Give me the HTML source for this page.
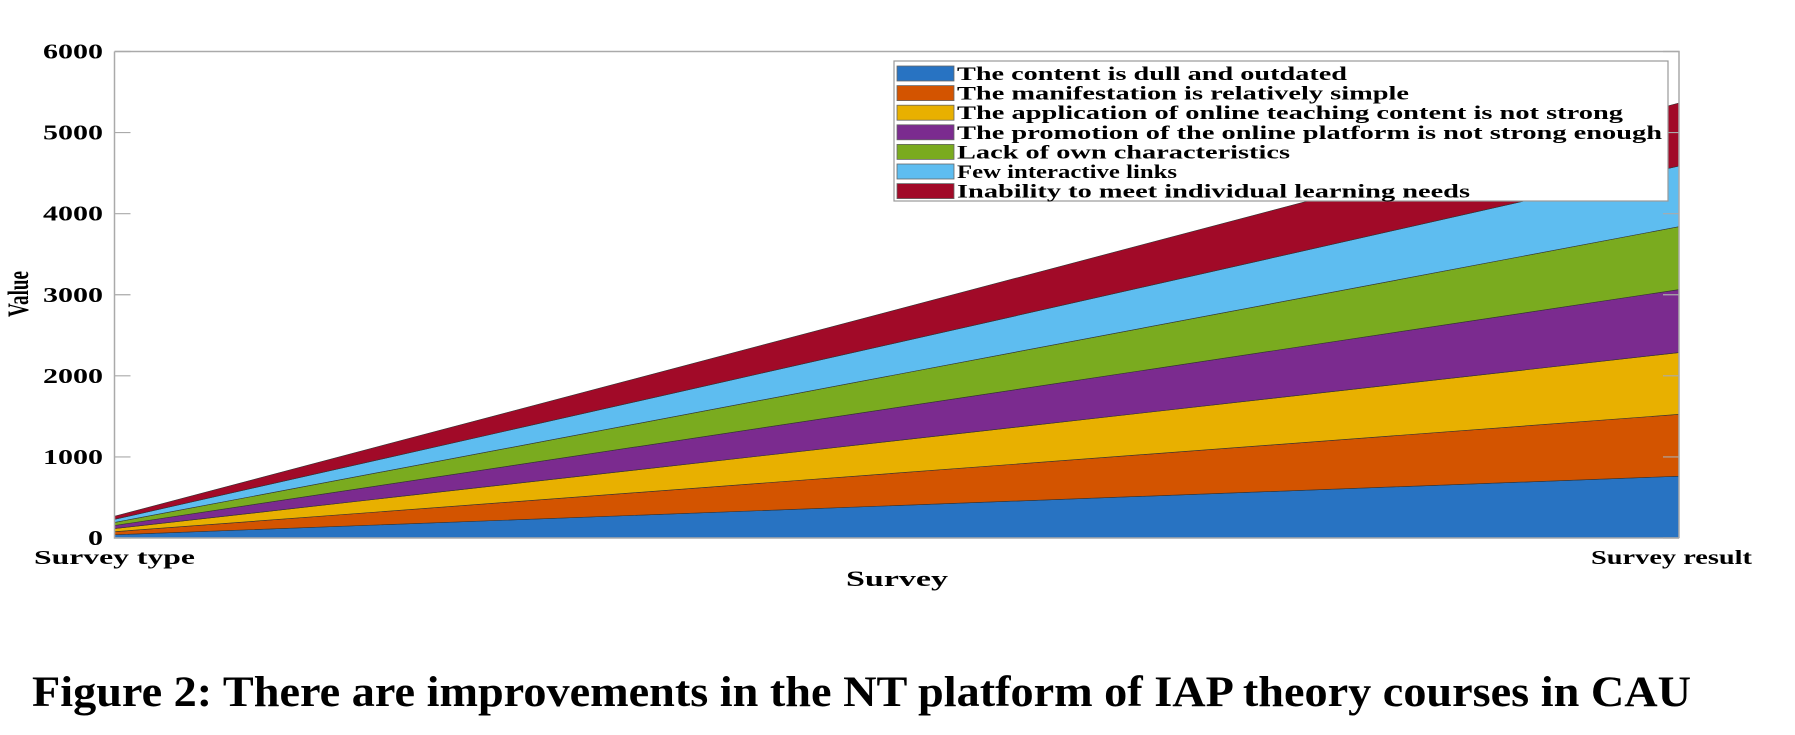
<!DOCTYPE html>
<html><head><meta charset="utf-8"><style>
html,body{margin:0;padding:0;background:#fff;}
svg{display:block;font-family:"Liberation Serif",serif;}
</style></head><body>
<svg id="chart" width="1795" height="735" viewBox="0 0 1795 735">
<g id="areas"></g>
<g id="axes"></g>
<g id="legend"></g>
<text x="28" y="294" transform="rotate(-90 28 294)" text-anchor="middle" font-size="30" font-weight="bold" textLength="46" lengthAdjust="spacingAndGlyphs">Value</text>
<text x="897" y="586" text-anchor="middle" font-size="22" font-weight="bold" textLength="102" lengthAdjust="spacingAndGlyphs">Survey</text>
<text x="32" y="706" font-size="43" font-weight="bold" textLength="1659" lengthAdjust="spacingAndGlyphs">Figure 2: There are improvements in the NT platform of IAP theory courses in CAU</text>
</svg>
<script>
const categories = ["Survey type", "Survey result"];
const seriesNames = ["The content is dull and outdated","The manifestation is relatively simple","The application of online teaching content is not strong","The promotion of the online platform is not strong enough","Lack of own characteristics","Few interactive links","Inability to meet individual learning needs"];
const seriesColors = ["#2873c2","#d35400","#e8b000","#7b2b8f","#7aab1f","#5ebdf0","#a10a28"];
const startValues = [40, 38, 38, 38, 38, 38, 38];
const endValues = [762, 763, 762, 777, 776, 748, 777];
const yTicks = [0, 1000, 2000, 3000, 4000, 5000, 6000];
const legendWidths = [390, 452, 666, 705, 333, 220, 513];

const NS = "http://www.w3.org/2000/svg";
const L = 114.5, R = 1679, T = 51.5, B = 538, YMAX = 6000;
const xScale = i => L + (R - L) * i / (categories.length - 1);
const yScale = v => B - (B - T) * v / YMAX;
function mk(tag, attrs, parent) { const e = document.createElementNS(NS, tag); for (const k in attrs) e.setAttribute(k, attrs[k]); parent.appendChild(e); return e; }

const areas = document.getElementById("areas");
let cumS = 0, cumE = 0;
for (let s = 0; s < seriesNames.length; s++) {
  const s0 = cumS, e0 = cumE;
  cumS += startValues[s]; cumE += endValues[s];
  const d = `M${xScale(0)},${yScale(s0)} L${xScale(1)},${yScale(e0)} L${xScale(1)},${yScale(cumE)} L${xScale(0)},${yScale(cumS)} Z`;
  const p = mk("path", {d: d, fill: seriesColors[s], stroke: "#333", "stroke-width": 0.6}, areas);
  
  
}

const axes = document.getElementById("axes");
const frame = mk("path", {d: `M${L},${T} L${R},${T} L${R},${B} M${L},${T} L${L},${B} L${R},${B}`, fill: "none", stroke: "#aaa", "stroke-width": 1.5}, axes);


for (const t of yTicks) {
  const y = yScale(t);
  const tk = mk("path", {d: `M${L},${y} L${L + 16},${y} M${R},${y} L${R - 16},${y}`, stroke: "#aaa", "stroke-width": 1.2}, axes);
  
  
  const lab = mk("text", {x: 103, y: y + 7, "text-anchor": "end", "font-size": 21, "font-weight": "bold"}, axes);
  lab.setAttribute("textLength", 15 * String(t).length);
  lab.setAttribute("lengthAdjust", "spacingAndGlyphs");
  lab.textContent = t;
  
  
}
const catPos = [[34, 161], [1591, 161]];
categories.forEach((c, i) => {
  const t = mk("text", {x: catPos[i][0], y: 564, "font-size": 20, "font-weight": "bold", textLength: catPos[i][1], lengthAdjust: "spacingAndGlyphs"}, axes);
  t.textContent = c;
  
  
});

const lg = document.getElementById("legend");
const box = mk("rect", {x: 894, y: 61, width: 774, height: 140, fill: "#fff", stroke: "#999", "stroke-width": 1.2}, lg);


seriesNames.forEach((n, i) => {
  const y = 65 + i * 19.6;
  const sw = mk("rect", {x: 897, y: y + 1, width: 57, height: 15, fill: seriesColors[i], stroke: "#666", "stroke-width": 0.8}, lg);
  
  
  const t = mk("text", {x: 957, y: y + 15, "font-size": 19, "font-weight": "bold", textLength: legendWidths[i], lengthAdjust: "spacingAndGlyphs"}, lg);
  t.textContent = n;
  
  
});
</script>
</body></html>
